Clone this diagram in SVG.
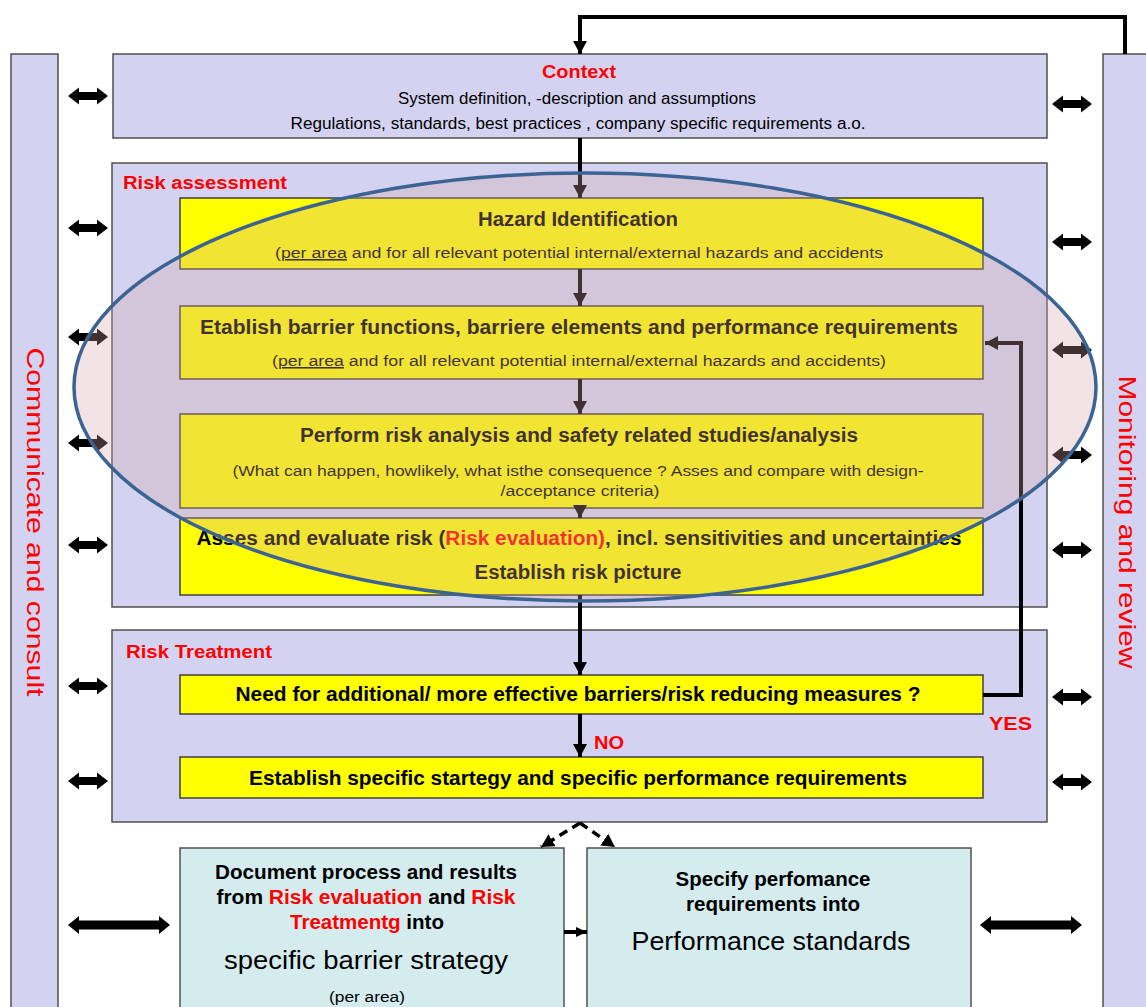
<svg xmlns="http://www.w3.org/2000/svg" width="1146" height="1007" viewBox="0 0 1146 1007">
  <style>
    .panel { fill: #d3d3f1; stroke: #505050; stroke-width: 1.5; }
    .step { fill: #ffff00; stroke: #404040; stroke-width: 1.5; }
    .doc { fill: #d5ecef; stroke: #505050; stroke-width: 1.5; }
    text { font-family: "Liberation Sans", Arial, sans-serif; fill: #000; }
    .red { fill: #ff0000; }
    .b { font-weight: bold; }
    .c { text-anchor: middle; }
    .conn { fill: none; stroke: #000; stroke-width: 4; }
    .dash { fill: none; stroke: #000; stroke-width: 3.5; stroke-dasharray: 9 6; }
    .dbl { fill: #000; }
  </style>
  <defs>
    <marker id="head" markerUnits="userSpaceOnUse" markerWidth="14" markerHeight="14" refX="13" refY="7" orient="auto">
      <path d="M0,0 L13,7 L0,14 Z" fill="#000"/>
    </marker>
    <marker id="headSmall" markerUnits="userSpaceOnUse" markerWidth="12" markerHeight="12" refX="11" refY="6" orient="auto">
      <path d="M0,1 L11,6 L0,11 Z" fill="#000"/>
    </marker>
    <!-- short two-way exchange arrow, 40 wide -->
    <path id="dblShort" d="M0,0 L11,-8.5 L11,-4 L29,-4 L29,-8.5 L40,0 L29,8.5 L29,4 L11,4 L11,8.5 Z"/>
    <!-- long two-way exchange arrow, 102 wide -->
    <path id="dblLong" d="M0,0 L11,-9 L11,-4.5 L91,-4.5 L91,-9 L102,0 L91,9 L91,4.5 L11,4.5 L11,9 Z"/>
  </defs>

  <rect width="1146" height="1007" fill="#ffffff"/>

  <!-- side columns -->
  <g id="communicate">
    <rect class="panel" x="11" y="54" width="47" height="970"/>
    <text class="red c" font-size="24" transform="translate(35,522) rotate(90)" x="0" y="8" textLength="349" lengthAdjust="spacingAndGlyphs">Communicate and consult</text>
  </g>
  <g id="monitoring">
    <rect class="panel" x="1103" y="54" width="60" height="970"/>
    <text class="red c" font-size="24" transform="translate(1127,522) rotate(90)" x="0" y="8" textLength="293" lengthAdjust="spacingAndGlyphs">Monitoring and review</text>
  </g>

  <!-- context -->
  <g id="context">
    <rect class="panel" x="113" y="54" width="934" height="84"/>
    <text class="red b c" font-size="18" x="579" y="78" textLength="74" lengthAdjust="spacingAndGlyphs">Context</text>
    <text class="c" font-size="16" x="577" y="104" textLength="358" lengthAdjust="spacingAndGlyphs">System definition, -description and assumptions</text>
    <text class="c" font-size="16" x="578" y="129" textLength="575" lengthAdjust="spacingAndGlyphs">Regulations, standards, best practices  , company specific  requirements a.o.</text>
  </g>

  <!-- risk assessment -->
  <g id="risk-assessment">
    <rect class="panel" x="112" y="163" width="935" height="444"/>
    <text class="red b" font-size="18" x="123" y="189" textLength="164" lengthAdjust="spacingAndGlyphs">Risk assessment</text>
  </g>
  <g id="hazard-identification">
    <rect class="step" x="180" y="198" width="803" height="71"/>
    <text class="b c" font-size="20" x="578" y="226" textLength="200" lengthAdjust="spacingAndGlyphs">Hazard Identification</text>
    <text class="c" font-size="15.5" x="579" y="258" textLength="608" lengthAdjust="spacingAndGlyphs">(<tspan text-decoration="underline">per  area</tspan> and for all relevant  potential  internal/external hazards and  accidents</text>
  </g>
  <g id="barrier-functions">
    <rect class="step" x="180" y="306" width="803" height="73"/>
    <text class="b c" font-size="20" x="579" y="334" textLength="758" lengthAdjust="spacingAndGlyphs">Etablish  barrier functions, barriere elements and performance  requirements</text>
    <text class="c" font-size="15.5" x="579" y="366" textLength="614" lengthAdjust="spacingAndGlyphs">(<tspan text-decoration="underline">per  area</tspan> and for all relevant  potential  internal/external hazards and  accidents)</text>
  </g>
  <g id="risk-analysis">
    <rect class="step" x="180" y="414" width="803" height="94"/>
    <text class="b c" font-size="20" x="579" y="442" textLength="558" lengthAdjust="spacingAndGlyphs">Perform risk analysis  and safety  related studies/analysis</text>
    <text class="c" font-size="15.5" x="578" y="476" textLength="691" lengthAdjust="spacingAndGlyphs">(What can happen, howlikely, what isthe consequence ? Asses and compare with design-</text>
    <text class="c" font-size="15.5" x="580" y="496" textLength="159" lengthAdjust="spacingAndGlyphs">/acceptance criteria)</text>
  </g>
  <g id="risk-evaluation">
    <rect class="step" x="180" y="518" width="803" height="77"/>
    <text class="b c" font-size="20" x="579" y="545" textLength="765" lengthAdjust="spacingAndGlyphs">Asses and evaluate risk (<tspan class="red">Risk evaluation)</tspan>, incl. sensitivities and uncertainties</text>
    <text class="b c" font-size="20" x="578" y="579" textLength="207" lengthAdjust="spacingAndGlyphs">Establish risk picture</text>
  </g>

  <!-- risk treatment -->
  <g id="risk-treatment">
    <rect class="panel" x="112" y="630" width="935" height="192"/>
    <text class="red b" font-size="18" x="126" y="658" textLength="146" lengthAdjust="spacingAndGlyphs">Risk Treatment</text>
    <text class="red b" font-size="18" x="594" y="749" textLength="30" lengthAdjust="spacingAndGlyphs">NO</text>
    <text class="red b" font-size="18" x="989" y="730" textLength="43" lengthAdjust="spacingAndGlyphs">YES</text>
  </g>
  <g id="need-barriers">
    <rect class="step" x="180" y="675" width="803" height="39"/>
    <text class="b c" font-size="20" x="578" y="701" textLength="685" lengthAdjust="spacingAndGlyphs">Need for additional/ more effective barriers/risk reducing measures ?</text>
  </g>
  <g id="specific-strategy">
    <rect class="step" x="180" y="757" width="803" height="41"/>
    <text class="b c" font-size="20" x="578" y="785" textLength="658" lengthAdjust="spacingAndGlyphs">Establish specific startegy and specific performance requirements</text>
  </g>

  <!-- outputs -->
  <g id="barrier-strategy">
    <rect class="doc" x="180" y="848" width="384" height="180"/>
    <text class="b c" font-size="20" x="366" y="879" textLength="302" lengthAdjust="spacingAndGlyphs">Document process and results</text>
    <text class="b c" font-size="20" x="366" y="904" textLength="299" lengthAdjust="spacingAndGlyphs">from <tspan class="red">Risk evaluation</tspan> and <tspan class="red">Risk</tspan></text>
    <text class="b c" font-size="20" x="367" y="929" textLength="154" lengthAdjust="spacingAndGlyphs"><tspan class="red">Treatmentg</tspan> into</text>
    <text class="c" font-size="25" x="366" y="969" textLength="284" lengthAdjust="spacingAndGlyphs">specific barrier strategy</text>
    <text class="c" font-size="14" x="367" y="1002" textLength="76" lengthAdjust="spacingAndGlyphs">(per area)</text>
  </g>
  <g id="performance-standards">
    <rect class="doc" x="587" y="848" width="384" height="180"/>
    <text class="b c" font-size="20" x="773" y="886" textLength="195" lengthAdjust="spacingAndGlyphs">Specify perfomance</text>
    <text class="b c" font-size="20" x="773" y="911" textLength="174" lengthAdjust="spacingAndGlyphs">requirements into</text>
    <text class="c" font-size="25" x="771" y="950" textLength="279" lengthAdjust="spacingAndGlyphs">Performance standards</text>
  </g>

  <!-- connectors -->
  <g id="connectors">
    <path class="conn" d="M1125,54 V17 H580 V54" marker-end="url(#head)"/>
    <path class="conn" d="M580,138 V198" marker-end="url(#head)"/>
    <path class="conn" d="M580,269 V306" marker-end="url(#head)"/>
    <path class="conn" d="M580,379 V414" marker-end="url(#head)"/>
    <path class="conn" d="M580,508 V518" marker-end="url(#head)"/>
    <path class="conn" d="M580,595 V675" marker-end="url(#head)"/>
    <path class="conn" d="M580,714 V757" marker-end="url(#head)"/>
    <path class="conn" d="M983,695 H1021 V343 H985" marker-end="url(#head)"/>
    <path class="dash" d="M580,823 L541,847" marker-end="url(#head)"/>
    <path class="dash" d="M580,823 L615,847" marker-end="url(#head)"/>
    <path class="conn" stroke-width="3" d="M564,932 H587" marker-end="url(#headSmall)"/>

    <!-- exchange with "communicate and consult" -->
    <use href="#dblShort" class="dbl" x="68" y="96"/>
    <use href="#dblShort" class="dbl" x="68" y="228"/>
    <use href="#dblShort" class="dbl" x="68" y="337"/>
    <use href="#dblShort" class="dbl" x="68" y="443"/>
    <use href="#dblShort" class="dbl" x="68" y="545"/>
    <use href="#dblShort" class="dbl" x="68" y="686"/>
    <use href="#dblShort" class="dbl" x="68" y="781"/>
    <use href="#dblLong" class="dbl" x="68" y="925"/>

    <!-- exchange with "monitoring and review" -->
    <use href="#dblShort" class="dbl" x="1052" y="104"/>
    <use href="#dblShort" class="dbl" x="1052" y="242"/>
    <use href="#dblShort" class="dbl" x="1052" y="350"/>
    <use href="#dblShort" class="dbl" x="1052" y="455"/>
    <use href="#dblShort" class="dbl" x="1052" y="550"/>
    <use href="#dblShort" class="dbl" x="1052" y="697"/>
    <use href="#dblShort" class="dbl" x="1052" y="782"/>
    <use href="#dblLong" class="dbl" x="980" y="925"/>
  </g>

  <!-- highlight round the assessment steps -->
  <g id="assessment-highlight">
    <ellipse cx="585" cy="387" rx="511" ry="214" fill="#d4a5a5" fill-opacity="0.3" stroke="#3b6494" stroke-width="3.5"/>
  </g>
</svg>
